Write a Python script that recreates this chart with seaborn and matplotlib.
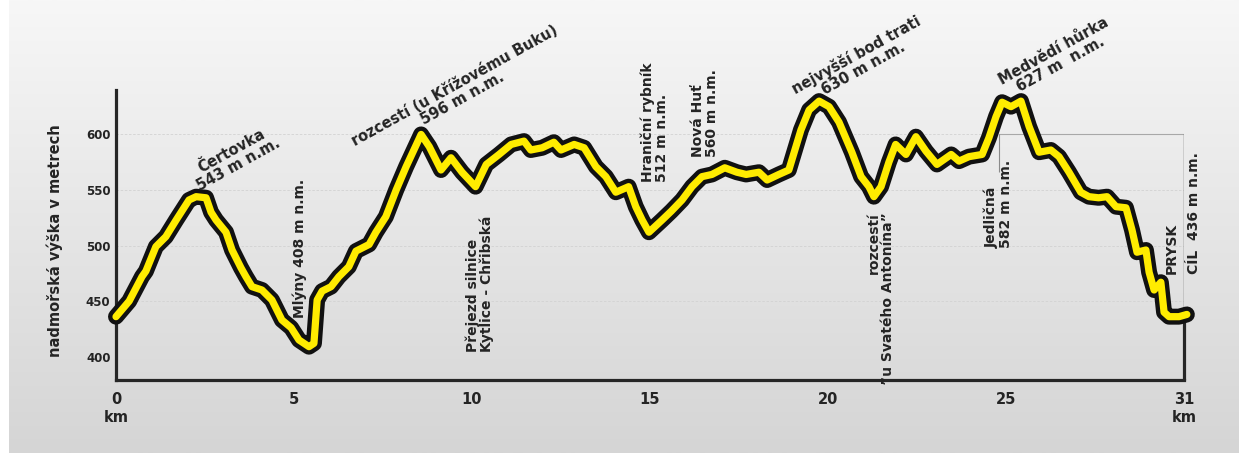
import numpy as np
import seaborn as sns
import matplotlib.pyplot as plt
from matplotlib.colors import LinearSegmentedColormap

# %% Data: elevation profile (km along track, metres a.s.l.)
km = [0.0, 0.37, 0.73, 0.84, 1.12, 1.4, 1.69, 1.83, 2.05, 2.25, 2.53, 2.67, 2.81,
      3.09, 3.26, 3.51, 3.65, 3.82, 4.1, 4.38, 4.66, 4.92, 5.14, 5.42, 5.56, 5.65,
      5.79, 6.04, 6.26, 6.54, 6.74, 7.11, 7.3, 7.58, 7.87, 8.15, 8.57, 8.8, 9.13,
      9.41, 9.72, 10.1, 10.4, 10.76, 11.1, 11.46, 11.65, 11.97, 12.3, 12.5, 12.87,
      13.15, 13.48, 13.76, 14.04, 14.4, 14.6, 14.78, 14.97, 15.34, 15.6, 15.9,
      16.18, 16.46, 16.74, 17.1, 17.44, 17.7, 18.06, 18.29, 18.62, 18.9, 19.24,
      19.47, 19.75, 20.03, 20.31, 20.67, 20.93, 21.15, 21.29, 21.49, 21.71, 21.9,
      22.19, 22.47, 22.75, 23.06, 23.46, 23.68, 23.96, 24.33, 24.52, 24.72, 24.89,
      25.14, 25.42, 25.65, 25.93, 26.26, 26.49, 26.77, 27.1, 27.33, 27.6, 27.84,
      28.09, 28.37, 28.54, 28.68, 28.93, 29.02, 29.16, 29.35, 29.44, 29.58, 29.86,
      30.08]
elev = [436, 450, 472, 477, 499, 508, 523, 530, 541, 544, 543, 530, 523,
        512, 496, 480, 472, 463, 460, 451, 433, 426, 415, 409, 412, 451,
        459, 463, 472, 481, 495, 501, 512, 526, 550, 571, 600, 589, 568,
        579, 566, 553, 573, 582, 591, 594, 586, 588, 593, 586, 591,
        588, 571, 562, 548, 553, 535, 523, 512, 523, 531, 541,
        553, 562, 564, 570, 566, 564, 566, 559, 564, 568, 604,
        622, 630, 625, 611, 584, 562, 553, 544, 553, 575, 591,
        582, 598, 585, 573, 582, 576, 580, 582, 597, 616, 629,
        625, 630, 607, 584, 586, 580, 566, 548, 544, 543, 544,
        535, 534, 514, 494, 496, 476, 460, 467, 440, 436, 436,
        438]

x_ticks = [0, 5, 10, 15, 20, 25, 30]
x_ticklabels = ['0\nkm', '5', '10', '15', '20', '25', '31\nkm']
y_ticks = [400, 450, 500, 550, 600]
y_ticklabels = ['400', '450', '500', '550', '600']

# Slanted labels above the peaks
peak_labels = ['Čertovka\n543 m n.m.',
               'rozcestí (u Křížovému Buku)\n596 m n.m.',
               'nejvyšší bod trati\n630 m n.m.',
               'Medvědí hůrka\n627 m  n.m.']
peak_pos = [(3.34, 579), (9.63, 638), (20.9, 666), (26.43, 669)]

# Upright labels (bottom edge at the given elevation)
vert_labels = ['Mlýny 408 m n.m.',
               'Přejezd silnice\nKytlice - Chřibská',
               'Hraniční rybník\n512 m n.m.',
               'Nová Huť\n560 m n.m.',
               'Jedličná\n582 m n.m.',
               'PRYSK',
               'CÍL  436 m n.m.']
vert_pos = [(5.17, 435), (10.22, 404), (15.14, 557), (16.55, 580),
            (24.8, 498), (29.66, 474), (30.28, 474)]

text_col = '#242424'

sns.set_style('white')
plt.rcParams['font.family'] = ['DejaVu Sans']

fig = plt.figure(figsize=(12.39, 4.53), dpi=100, facecolor='white')

# Background gradient panel
bg = fig.add_axes([9 / 1239, 0, 1 - 9 / 1239, 1])
grad = np.linspace(0, 1, 256).reshape(-1, 1)
cmap = LinearSegmentedColormap.from_list('bg', ['#f7f7f7', '#d5d5d5'])
bg.imshow(grad, aspect='auto', cmap=cmap, extent=[0, 1, 0, 1])
bg.axis('off')

ax = fig.add_axes([116 / 1239, 1 - 380 / 453, 1068 / 1239, 290 / 453])
ax.patch.set_alpha(0)

# faint grid
for yy in [450, 500, 550, 600]:
    ax.axhline(yy, color='#d2d2d2', lw=0.6, ls=(0, (3, 2)), zorder=1)
ax.plot([24.8, 30], [600, 600], color='#a8a8a8', lw=0.8, zorder=1)
ax.vlines(24.8, 566, 600, color='#8a8a8a', lw=0.8, zorder=1)

# right end markers
ax.vlines(30, 436, 600, color='#555555', lw=1.0, zorder=2)
ax.vlines(30, 379, 436, color='#262626', lw=2.3, zorder=2, clip_on=False)

# profile: black outline + yellow core
sns.lineplot(x=km, y=elev, estimator=None, color='#111111', lw=11.5, ax=ax,
             solid_joinstyle='round', solid_capstyle='round', clip_on=False, zorder=5)
sns.lineplot(x=km, y=elev, estimator=None, color='#ffec00', lw=5.2, ax=ax,
             solid_joinstyle='round', solid_capstyle='round', clip_on=False, zorder=6)

ax.set_xlim(0, 30)
ax.set_ylim(379, 640)
ax.set_xticks(x_ticks)
ax.set_xticklabels(x_ticklabels, fontsize=10.5, fontweight='bold', color=text_col,
                   linespacing=1.25)
ax.set_yticks(y_ticks)
ax.set_yticklabels(y_ticklabels, fontsize=8.5, fontweight='bold', color=text_col)
ax.tick_params(axis='x', length=0, pad=9)
ax.tick_params(axis='y', length=0, pad=4)
ax.set_xlabel('')
ax.set_ylabel('')
for s in ['top', 'right']:
    ax.spines[s].set_visible(False)
for s in ['left', 'bottom']:
    ax.spines[s].set_color('#262626')
    ax.spines[s].set_linewidth(2.3)
    ax.spines[s].set_capstyle('projecting')

fig.text(55 / 1239, 1 - 241 / 453, 'nadmořská výška v metrech', rotation=90,
         ha='center', va='center', fontsize=10.5, fontweight='bold', color=text_col)

for lab, (xx, yy) in zip(peak_labels, peak_pos):
    ax.text(xx, yy, lab, rotation=29, rotation_mode='anchor', ha='center',
            va='center', multialignment='center', fontsize=10.5, fontweight='bold',
            color=text_col, clip_on=False, zorder=8, linespacing=1.0)

for lab, (xx, yy) in zip(vert_labels, vert_pos):
    ax.text(xx, yy, lab, rotation=90, rotation_mode='anchor', ha='left',
            va='center', multialignment='left', fontsize=10, fontweight='bold',
            color=text_col, clip_on=False, zorder=8, linespacing=1.0)

# top-aligned label at the crossroads
ax.text(21.49, 530, 'rozcestí\n”u Svatého Antonína”', rotation=90,
        rotation_mode='anchor', ha='right', va='center', multialignment='right',
        fontsize=10, fontweight='bold', color=text_col, clip_on=False, zorder=8,
        linespacing=1.0)

plt.savefig('out.png', dpi=100)
